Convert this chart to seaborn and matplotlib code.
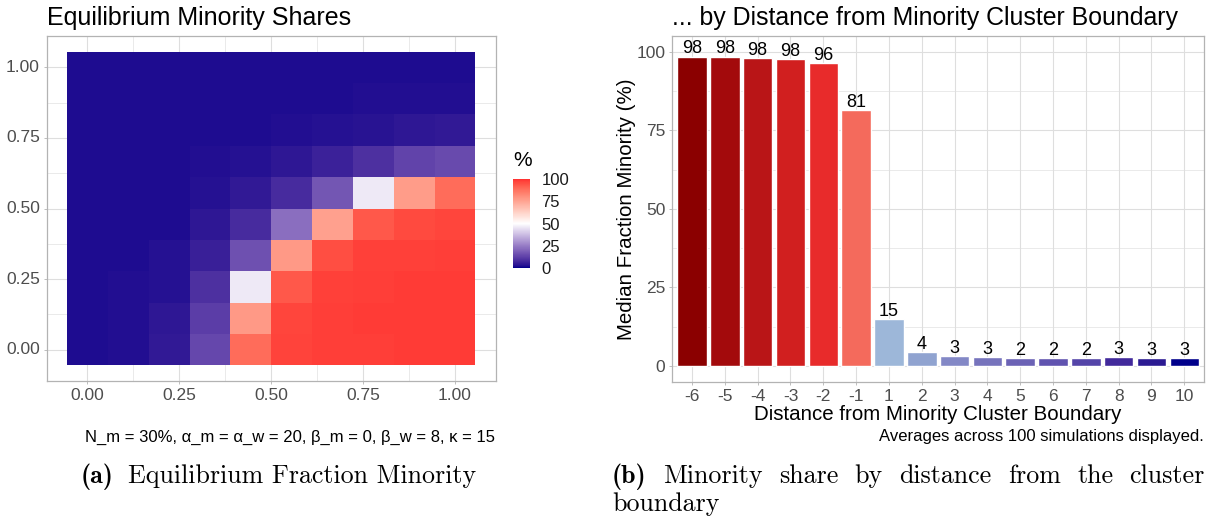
import numpy as np
import pandas as pd
import matplotlib
matplotlib.use("Agg")
import matplotlib.pyplot as plt
import seaborn as sns
from matplotlib.colors import ListedColormap

# ---------------- data ----------------
x_levels = [0.0, 0.111, 0.222, 0.333, 0.444, 0.556, 0.667, 0.778, 0.889, 1.0]
y_levels = [0.0, 0.111, 0.222, 0.333, 0.444, 0.556, 0.667, 0.778, 0.889, 1.0]
# rows: y from 0 (first) to 1 (last); columns: x from 0 to 1
share_y000 = [2, 2.5, 4.5, 14, 89, 97, 97.7, 98, 98.3, 98.3]
share_y011 = [2, 2.5, 4, 12, 78, 96.5, 98, 98.3, 98.3, 98.3]
share_y022 = [2, 2.5, 3, 9, 46, 93, 97.3, 98, 98.3, 98.3]
share_y033 = [2, 2, 3, 5.5, 16, 78, 95, 97.3, 97.5, 97.7]
share_y044 = [2, 2, 2, 4, 8, 22, 76, 93, 96, 96.5]
share_y056 = [2, 2, 2, 3, 4.5, 8, 17, 46, 77, 89]
share_y067 = [2, 2, 2, 2.5, 3, 4, 6, 9, 13, 14.5]
share_y078 = [2, 2, 2, 2, 2, 2.5, 3, 3.5, 4, 4.5]
share_y089 = [2, 2, 2, 2, 2, 2, 2, 2.5, 2.5, 2.5]
share_y100 = [2, 2, 2, 2, 2, 2, 2, 2, 2, 2]

axis_ticks = [0.0, 0.25, 0.5, 0.75, 1.0]
axis_minor = [0.125, 0.375, 0.625, 0.875]
axis_tick_labels = ["0.00", "0.25", "0.50", "0.75", "1.00"]
legend_ticks = [0, 25, 50, 75, 100]

distance = ["-6", "-5", "-4", "-3", "-2", "-1", "1", "2", "3", "4", "5", "6", "7", "8", "9", "10"]
median_minority = [98.4, 98.4, 98.0, 97.7, 96.4, 81.4, 15.0, 4.4, 3.2, 2.9, 2.4, 2.4, 2.4, 2.9, 2.6, 2.6]
bar_colors = ["#8B0000", "#A30A0C", "#B91517", "#D11F1F", "#E82B2B", "#F46A5C",
              "#9DB7D9", "#90A3D0", "#8388C6", "#7673BC", "#6B62B5", "#6053AF",
              "#5444A8", "#41299B", "#2B1A92", "#00008B"]
bar_yticks = [0, 25, 50, 75, 100]
bar_yminor = [12.5, 37.5, 62.5, 87.5]

# ---------------- colour scale (Lab interpolation like ggplot gradient2) ----------------
def srgb_to_lab(rgb):
    c = np.asarray(rgb, float)
    lin = np.where(c <= 0.04045, c / 12.92, ((c + 0.055) / 1.055) ** 2.4)
    M = np.array([[0.4124564, 0.3575761, 0.1804375],
                  [0.2126729, 0.7151522, 0.0721750],
                  [0.0193339, 0.1191920, 0.9503041]])
    xyz = M @ lin / np.array([0.95047, 1.0, 1.08883])
    d = 6 / 29
    f = np.where(xyz > d ** 3, np.cbrt(xyz), xyz / (3 * d * d) + 4 / 29)
    return np.array([116 * f[1] - 16, 500 * (f[0] - f[1]), 200 * (f[1] - f[2])])

def lab_to_srgb(lab):
    L, a, b = lab
    fy = (L + 16) / 116
    fx = fy + a / 500
    fz = fy - b / 200
    d = 6 / 29
    f = np.array([fx, fy, fz])
    xyz = np.where(f > d, f ** 3, 3 * d * d * (f - 4 / 29)) * np.array([0.95047, 1.0, 1.08883])
    Minv = np.array([[3.2404542, -1.5371385, -0.4985314],
                     [-0.9692660, 1.8760108, 0.0415560],
                     [0.0556434, -0.2040259, 1.0572252]])
    lin = Minv @ xyz
    s = np.where(lin <= 0.0031308, 12.92 * lin, 1.055 * np.clip(lin, 0, None) ** (1 / 2.4) - 0.055)
    return np.clip(s, 0, 1)

low = srgb_to_lab(matplotlib.colors.to_rgb("#00008B"))
mid = srgb_to_lab(matplotlib.colors.to_rgb("#FFFFFF"))
high = srgb_to_lab(matplotlib.colors.to_rgb("#FF3030"))
cols = []
for t in np.linspace(0, 1, 256):
    if t <= 0.5:
        u = t / 0.5
        lab = low + (mid - low) * u
    else:
        u = (t - 0.5) / 0.5
        lab = mid + (high - mid) * u
    cols.append(lab_to_srgb(lab))
cmap = ListedColormap(cols)

# ---------------- figure ----------------
sns.set_theme(style="white")
plt.rcParams["font.family"] = ["Liberation Sans", "DejaVu Sans"]

W, H = 1215, 525
fig = plt.figure(figsize=(W / 100, H / 100), dpi=100)
fig.patch.set_facecolor("white")

def box(x0, y0, x1, y1):
    return [x0 / W, 1 - y1 / H, (x1 - x0) / W, (y1 - y0) / H]

ax1 = fig.add_axes(box(46.7, 36, 495.7, 381))
cax = fig.add_axes(box(512.7, 179, 530.3, 268))
ax2 = fig.add_axes(box(672.3, 36, 1204, 381.7))

grid_major = "#DEDEDE"
border = "#B3B3B3"
tick_col = "#4D4D4D"

# ---- heatmap ----
share = [share_y000, share_y011, share_y022, share_y033, share_y044,
         share_y056, share_y067, share_y078, share_y089, share_y100]
df = pd.DataFrame(share, index=y_levels, columns=x_levels)
sns.heatmap(df, ax=ax1, cmap=cmap, vmin=0, vmax=100, cbar_ax=cax,
            cbar_kws={"ticks": legend_ticks})

n = len(x_levels) - 1
to_pos = lambda v: 0.5 + n * v
ax1.set_xlim(to_pos(-0.111), to_pos(1.111))
ax1.set_ylim(to_pos(-0.111), to_pos(1.111))
ax1.set_xticks([to_pos(v) for v in axis_ticks])
ax1.set_xticklabels(axis_tick_labels, rotation=0)
ax1.set_yticks([to_pos(v) for v in axis_ticks])
ax1.set_yticklabels(axis_tick_labels, rotation=0)
ax1.set_xticks([to_pos(v) for v in axis_minor], minor=True)
ax1.set_yticks([to_pos(v) for v in axis_minor], minor=True)
ax1.set_xlabel("")
ax1.set_ylabel("")

# ---- bars ----
bars_df = pd.DataFrame({"distance": distance, "median": median_minority})
sns.barplot(data=bars_df, x="distance", y="median", hue="distance", order=distance,
            hue_order=distance, palette=bar_colors, saturation=1, width=0.9,
            legend=False, ax=ax2)
ax2.set_xlim(-0.6, len(distance) - 0.4)
ax2.set_ylim(-5, 105)
ax2.set_yticks(bar_yticks)
ax2.set_yticks(bar_yminor, minor=True)
ax2.set_xlabel("")
ax2.set_ylabel("")
for cont in ax2.containers:
    ax2.bar_label(cont, fmt="%.0f", padding=-0.5, fontsize=13, color="black")

for ax in (ax1, ax2):
    ax.set_axisbelow(True)
    ax.xaxis.grid(True, which="major", color=grid_major, lw=0.8)
    ax.yaxis.grid(True, which="major", color=grid_major, lw=0.8)
    ax.yaxis.grid(True, which="minor", color=grid_major, lw=0.45)
    for s in ax.spines.values():
        s.set_visible(True)
        s.set_color(border)
        s.set_linewidth(0.9)
    ax.tick_params(which="major", length=2, width=0.6, color=border,
                   labelsize=12.5, labelcolor=tick_col, pad=3,
                   bottom=True, left=True, top=False, right=False)
    ax.tick_params(which="minor", length=0)
ax1.xaxis.grid(True, which="minor", color=grid_major, lw=0.45)

# colourbar
cbar = ax1.collections[0].colorbar
cbar.outline.set_visible(False)
cax.tick_params(which="major", direction="in", length=3.5, width=1, color="white",
                left=True, right=True, labelleft=False, labelright=True,
                labelsize=12, labelcolor="#1A1A1A", pad=8)
cax.tick_params(which="minor", length=0)
fig.text(513 / W, 1 - 166 / H, "%", fontsize=15, ha="left", va="baseline", color="black")

# ---- titles / axis titles / captions ----
fig.text(46.7 / W, 1 - 25 / H, "Equilibrium Minority Shares", fontsize=18,
         ha="left", va="baseline", color="black")
fig.text(672.3 / W, 1 - 25 / H, "... by Distance from Minority Cluster Boundary", fontsize=17.9,
         ha="left", va="baseline", color="black")
fig.text(938 / W, 1 - 420 / H, "Distance from Minority Cluster Boundary", fontsize=14.8,
         ha="center", va="baseline", color="black")
fig.text(632 / W, 1 - 209 / H, "Median Fraction Minority (%)", fontsize=14.8, rotation=90,
         rotation_mode="anchor", ha="center", va="baseline", color="black")
fig.text(1204 / W, 1 - 440.7 / H, "Averages across 100 simulations displayed.", fontsize=12,
         ha="right", va="baseline", color="black")
fig.text(290 / W, 1 - 441.7 / H,
         "N_m = 30%, \u03b1_m = \u03b1_w = 20, \u03b2_m = 0, \u03b2_w = 8, \u03ba = 15",
         fontsize=12, ha="center", va="baseline", color="black")

# ---- LaTeX-like subcaptions ----
renderer = fig.canvas.get_renderer()
CAP = 18.7

def place_words(items, x0, ybase, x1=None, gap=8.0):
    texts = [fig.text(0, 0, w, fontfamily=fam, fontsize=CAP, ha="left",
                      va="baseline", color="black") for w, fam in items]
    widths = [t.get_window_extent(renderer).width for t in texts]
    if x1 is not None and len(texts) > 1:
        gap = (x1 - x0 - sum(widths)) / (len(texts) - 1)
    x = x0
    for t, w in zip(texts, widths):
        t.set_position((x / W, 1 - ybase / H))
        x += w + gap

place_words([("(a)", "cmb10")], 80.7, 482.7)
place_words([("Equilibrium Fraction Minority", "cmr10")], 128.3, 482.7)
line_b = [("(b)", "cmb10")] + [(w, "cmr10") for w in
                                "Minority share by distance from the cluster".split()]
place_words(line_b, 612, 482.7, x1=1205)
place_words([("boundary", "cmr10")], 612, 511)

fig.savefig("out.png", dpi=100, facecolor="white")
